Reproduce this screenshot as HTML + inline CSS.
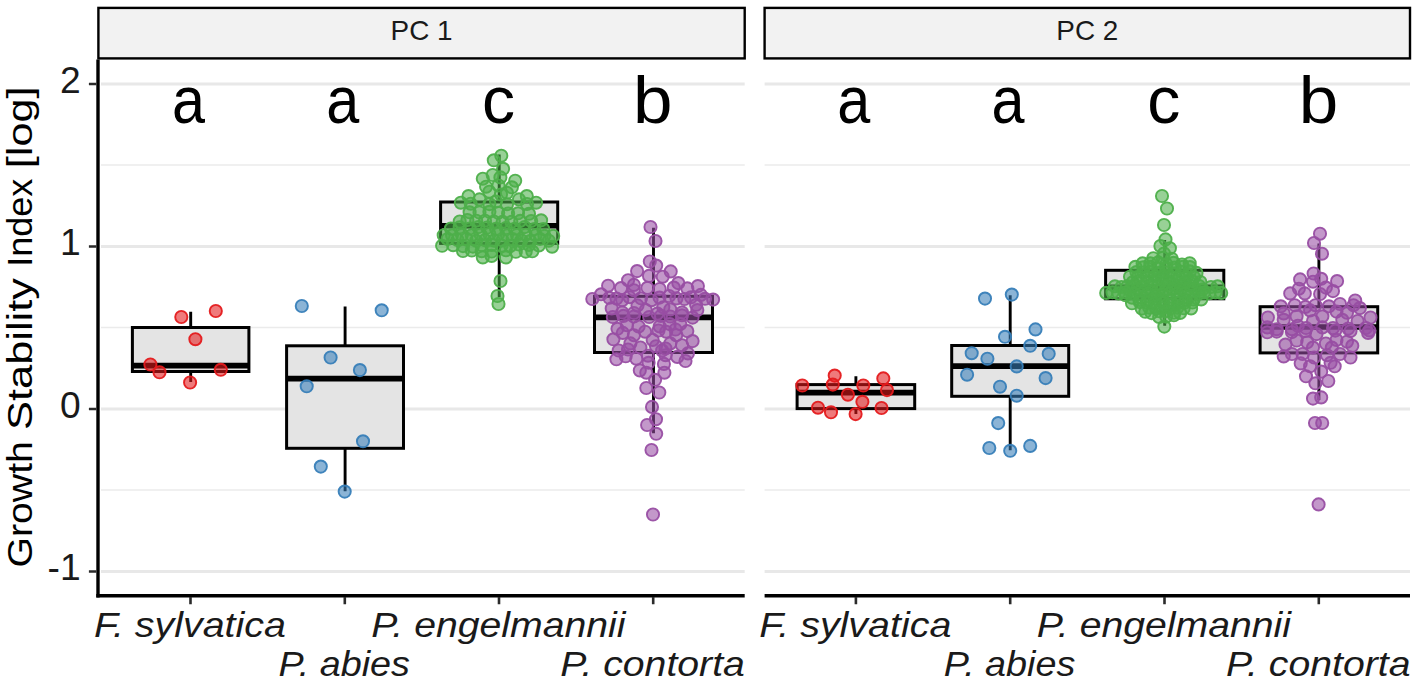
<!DOCTYPE html>
<html><head><meta charset="utf-8"><title>Growth Stability Index</title>
<style>html,body{margin:0;padding:0;background:#fff;}svg{display:block;}text{font-family:"Liberation Sans",sans-serif;}</style></head>
<body>
<svg width="1418" height="682" viewBox="0 0 1418 682" font-family="'Liberation Sans', sans-serif">
<rect width="1418" height="682" fill="#fff"/>
<path d="M101.0 84.0H744.7" stroke="#e8e8e8" stroke-width="3.1"/>
<path d="M101.0 246.5H744.7" stroke="#e8e8e8" stroke-width="3.1"/>
<path d="M101.0 409.0H744.7" stroke="#e8e8e8" stroke-width="3.1"/>
<path d="M101.0 571.5H744.7" stroke="#e8e8e8" stroke-width="3.1"/>
<path d="M101.0 165.0H744.7" stroke="#ebebeb" stroke-width="1.6"/>
<path d="M101.0 327.5H744.7" stroke="#ebebeb" stroke-width="1.6"/>
<path d="M101.0 490.0H744.7" stroke="#ebebeb" stroke-width="1.6"/>
<path d="M764.6 84.0H1410.0" stroke="#e8e8e8" stroke-width="3.1"/>
<path d="M764.6 246.5H1410.0" stroke="#e8e8e8" stroke-width="3.1"/>
<path d="M764.6 409.0H1410.0" stroke="#e8e8e8" stroke-width="3.1"/>
<path d="M764.6 571.5H1410.0" stroke="#e8e8e8" stroke-width="3.1"/>
<path d="M764.6 165.0H1410.0" stroke="#ebebeb" stroke-width="1.6"/>
<path d="M764.6 327.5H1410.0" stroke="#ebebeb" stroke-width="1.6"/>
<path d="M764.6 490.0H1410.0" stroke="#ebebeb" stroke-width="1.6"/>
<rect x="98.4" y="7.9" width="646.3" height="50.5" fill="#f2f2f2" stroke="#000" stroke-width="2.4"/>
<text x="421.6" y="40" font-size="28.3" text-anchor="middle" fill="#1a1a1a" textLength="62" lengthAdjust="spacingAndGlyphs">PC 1</text>
<rect x="764.6" y="7.9" width="645.4" height="50.5" fill="#f2f2f2" stroke="#000" stroke-width="2.4"/>
<text x="1087.3" y="40" font-size="28.3" text-anchor="middle" fill="#1a1a1a" textLength="62" lengthAdjust="spacingAndGlyphs">PC 2</text>
<path d="M190.7 311.7V327.5M190.7 371.5V382.0" stroke="#000" stroke-width="2.9" fill="none"/>
<rect x="132.4" y="327.5" width="116.5" height="44.0" fill="#e4e4e4" stroke="#000" stroke-width="3.0"/>
<path d="M132.4 365.6H248.9" stroke="#000" stroke-width="5.6"/>
<g fill="#E41A1C" fill-opacity="0.58" stroke="#E41A1C" stroke-opacity="0.95" stroke-width="1.9">
<circle cx="181.3" cy="317.0" r="6.1"/>
<circle cx="215.8" cy="311.0" r="6.1"/>
<circle cx="195.4" cy="339.2" r="6.1"/>
<circle cx="150.4" cy="364.5" r="6.1"/>
<circle cx="159.5" cy="372.3" r="6.1"/>
<circle cx="220.8" cy="369.8" r="6.1"/>
<circle cx="190.1" cy="382.5" r="6.1"/>
</g>
<path d="M345.1 306.4V345.8M345.1 448.3V491.3" stroke="#000" stroke-width="2.9" fill="none"/>
<rect x="286.6" y="345.8" width="116.9" height="102.5" fill="#e4e4e4" stroke="#000" stroke-width="3.0"/>
<path d="M286.6 378.6H403.5" stroke="#000" stroke-width="5.6"/>
<g fill="#377EB8" fill-opacity="0.58" stroke="#377EB8" stroke-opacity="0.95" stroke-width="1.9">
<circle cx="301.8" cy="306.0" r="6.1"/>
<circle cx="381.7" cy="310.3" r="6.1"/>
<circle cx="330.6" cy="357.5" r="6.1"/>
<circle cx="359.9" cy="370.1" r="6.1"/>
<circle cx="306.7" cy="386.3" r="6.1"/>
<circle cx="363.0" cy="441.3" r="6.1"/>
<circle cx="320.8" cy="466.6" r="6.1"/>
<circle cx="344.7" cy="491.6" r="6.1"/>
</g>
<path d="M499.2 154.5V202.0M499.2 243.4V297.0" stroke="#000" stroke-width="2.9" fill="none"/>
<rect x="440.6" y="202.0" width="117.1" height="41.4" fill="#e4e4e4" stroke="#000" stroke-width="3.0"/>
<path d="M440.6 225.8H557.7" stroke="#000" stroke-width="5.6"/>
<g fill="#4DAF4A" fill-opacity="0.58" stroke="#4DAF4A" stroke-opacity="0.95" stroke-width="1.9">
<circle cx="501.3" cy="155.7" r="6.1"/>
<circle cx="493.8" cy="160.3" r="6.1"/>
<circle cx="503.1" cy="168.8" r="6.1"/>
<circle cx="492.7" cy="175.0" r="6.1"/>
<circle cx="500.4" cy="177.4" r="6.1"/>
<circle cx="482.8" cy="178.7" r="6.1"/>
<circle cx="515.2" cy="180.7" r="6.1"/>
<circle cx="486.1" cy="186.7" r="6.1"/>
<circle cx="511.9" cy="187.3" r="6.1"/>
<circle cx="489.4" cy="191.7" r="6.1"/>
<circle cx="507.0" cy="192.8" r="6.1"/>
<circle cx="468.5" cy="196.1" r="6.1"/>
<circle cx="526.8" cy="196.1" r="6.1"/>
<circle cx="479.5" cy="199.4" r="6.1"/>
<circle cx="519.0" cy="199.4" r="6.1"/>
<circle cx="460.8" cy="202.7" r="6.1"/>
<circle cx="536.1" cy="202.7" r="6.1"/>
<circle cx="496.0" cy="201.6" r="6.1"/>
<circle cx="500.5" cy="281.0" r="6.1"/>
<circle cx="497.5" cy="296.0" r="6.1"/>
<circle cx="498.5" cy="304.0" r="6.1"/>
<circle cx="498.5" cy="185.5" r="6.1"/>
<circle cx="501.0" cy="194.5" r="6.1"/>
<circle cx="470.7" cy="203.7" r="6.1"/>
<circle cx="489.4" cy="204.1" r="6.1"/>
<circle cx="507.0" cy="204.2" r="6.1"/>
<circle cx="527.0" cy="204.0" r="6.1"/>
<circle cx="469.6" cy="212.3" r="6.1"/>
<circle cx="479.5" cy="212.5" r="6.1"/>
<circle cx="489.4" cy="211.8" r="6.1"/>
<circle cx="498.2" cy="212.8" r="6.1"/>
<circle cx="508.1" cy="213.5" r="6.1"/>
<circle cx="518.0" cy="213.3" r="6.1"/>
<circle cx="529.0" cy="213.8" r="6.1"/>
<circle cx="459.7" cy="221.5" r="6.1"/>
<circle cx="467.4" cy="220.0" r="6.1"/>
<circle cx="476.2" cy="220.7" r="6.1"/>
<circle cx="485.0" cy="220.7" r="6.1"/>
<circle cx="493.8" cy="221.5" r="6.1"/>
<circle cx="502.6" cy="221.9" r="6.1"/>
<circle cx="511.4" cy="221.9" r="6.1"/>
<circle cx="520.2" cy="220.9" r="6.1"/>
<circle cx="531.2" cy="221.0" r="6.1"/>
<circle cx="541.1" cy="220.3" r="6.1"/>
<circle cx="450.9" cy="228.6" r="6.1"/>
<circle cx="459.7" cy="227.3" r="6.1"/>
<circle cx="469.6" cy="228.6" r="6.1"/>
<circle cx="478.4" cy="227.1" r="6.1"/>
<circle cx="487.2" cy="227.5" r="6.1"/>
<circle cx="496.0" cy="228.8" r="6.1"/>
<circle cx="505.9" cy="228.0" r="6.1"/>
<circle cx="514.7" cy="228.8" r="6.1"/>
<circle cx="524.6" cy="227.1" r="6.1"/>
<circle cx="534.5" cy="229.1" r="6.1"/>
<circle cx="543.3" cy="229.1" r="6.1"/>
<circle cx="443.7" cy="235.2" r="6.1"/>
<circle cx="452.0" cy="235.3" r="6.1"/>
<circle cx="461.9" cy="234.8" r="6.1"/>
<circle cx="471.8" cy="235.2" r="6.1"/>
<circle cx="480.6" cy="234.6" r="6.1"/>
<circle cx="489.4" cy="233.9" r="6.1"/>
<circle cx="498.2" cy="234.0" r="6.1"/>
<circle cx="507.0" cy="235.4" r="6.1"/>
<circle cx="516.9" cy="234.9" r="6.1"/>
<circle cx="525.7" cy="234.7" r="6.1"/>
<circle cx="535.6" cy="235.1" r="6.1"/>
<circle cx="544.4" cy="235.8" r="6.1"/>
<circle cx="553.2" cy="235.9" r="6.1"/>
<circle cx="447.6" cy="239.0" r="6.1"/>
<circle cx="457.5" cy="240.0" r="6.1"/>
<circle cx="466.3" cy="238.9" r="6.1"/>
<circle cx="476.2" cy="240.8" r="6.1"/>
<circle cx="485.0" cy="240.1" r="6.1"/>
<circle cx="493.8" cy="240.6" r="6.1"/>
<circle cx="502.6" cy="240.5" r="6.1"/>
<circle cx="512.5" cy="239.1" r="6.1"/>
<circle cx="521.3" cy="240.3" r="6.1"/>
<circle cx="530.1" cy="241.1" r="6.1"/>
<circle cx="540.0" cy="239.0" r="6.1"/>
<circle cx="548.8" cy="240.7" r="6.1"/>
<circle cx="442.1" cy="245.8" r="6.1"/>
<circle cx="453.1" cy="245.2" r="6.1"/>
<circle cx="463.0" cy="246.1" r="6.1"/>
<circle cx="472.9" cy="246.6" r="6.1"/>
<circle cx="481.7" cy="245.1" r="6.1"/>
<circle cx="491.6" cy="245.0" r="6.1"/>
<circle cx="501.5" cy="245.6" r="6.1"/>
<circle cx="510.3" cy="245.9" r="6.1"/>
<circle cx="519.1" cy="244.5" r="6.1"/>
<circle cx="529.0" cy="244.9" r="6.1"/>
<circle cx="538.9" cy="245.4" r="6.1"/>
<circle cx="552.1" cy="246.7" r="6.1"/>
<circle cx="463.0" cy="251.0" r="6.1"/>
<circle cx="471.8" cy="250.5" r="6.1"/>
<circle cx="481.7" cy="251.2" r="6.1"/>
<circle cx="491.6" cy="251.5" r="6.1"/>
<circle cx="505.9" cy="250.3" r="6.1"/>
<circle cx="515.8" cy="251.8" r="6.1"/>
<circle cx="525.7" cy="251.6" r="6.1"/>
<circle cx="532.3" cy="251.3" r="6.1"/>
<circle cx="482.8" cy="257.4" r="6.1"/>
<circle cx="491.6" cy="255.9" r="6.1"/>
<circle cx="505.9" cy="257.4" r="6.1"/>
</g>
<path d="M653.5 227.7V296.3M653.5 352.5V433.2" stroke="#000" stroke-width="2.9" fill="none"/>
<rect x="594.5" y="296.3" width="118.0" height="56.2" fill="#e4e4e4" stroke="#000" stroke-width="3.0"/>
<path d="M594.5 317.4H712.5" stroke="#000" stroke-width="5.6"/>
<g fill="#984EA3" fill-opacity="0.58" stroke="#984EA3" stroke-opacity="0.95" stroke-width="1.9">
<circle cx="650.5" cy="227.0" r="6.1"/>
<circle cx="655.5" cy="241.0" r="6.1"/>
<circle cx="649.8" cy="261.5" r="6.1"/>
<circle cx="656.2" cy="265.6" r="6.1"/>
<circle cx="637.1" cy="271.1" r="6.1"/>
<circle cx="670.7" cy="271.4" r="6.1"/>
<circle cx="649.0" cy="275.9" r="6.1"/>
<circle cx="662.7" cy="276.7" r="6.1"/>
<circle cx="628.1" cy="280.2" r="6.1"/>
<circle cx="678.3" cy="283.1" r="6.1"/>
<circle cx="633.9" cy="284.9" r="6.1"/>
<circle cx="608.1" cy="285.7" r="6.1"/>
<circle cx="697.9" cy="286.1" r="6.1"/>
<circle cx="621.0" cy="288.1" r="6.1"/>
<circle cx="647.4" cy="287.8" r="6.1"/>
<circle cx="673.8" cy="287.6" r="6.1"/>
<circle cx="687.3" cy="288.4" r="6.1"/>
<circle cx="659.7" cy="289.0" r="6.1"/>
<circle cx="633.9" cy="290.2" r="6.1"/>
<circle cx="601.1" cy="294.3" r="6.1"/>
<circle cx="700.8" cy="294.9" r="6.1"/>
<circle cx="592.3" cy="299.0" r="6.1"/>
<circle cx="713.1" cy="299.6" r="6.1"/>
<circle cx="609.3" cy="297.8" r="6.1"/>
<circle cx="669.1" cy="296.0" r="6.1"/>
<circle cx="684.4" cy="299.0" r="6.1"/>
<circle cx="622.2" cy="300.2" r="6.1"/>
<circle cx="651.5" cy="300.2" r="6.1"/>
<circle cx="696.1" cy="304.8" r="6.1"/>
<circle cx="611.7" cy="308.4" r="6.1"/>
<circle cx="637.5" cy="305.4" r="6.1"/>
<circle cx="663.3" cy="307.2" r="6.1"/>
<circle cx="670.3" cy="309.5" r="6.1"/>
<circle cx="645.7" cy="310.1" r="6.1"/>
<circle cx="697.3" cy="310.1" r="6.1"/>
<circle cx="682.0" cy="312.5" r="6.1"/>
<circle cx="622.2" cy="312.5" r="6.1"/>
<circle cx="633.9" cy="313.0" r="6.1"/>
<circle cx="657.4" cy="313.6" r="6.1"/>
<circle cx="612.8" cy="317.0" r="6.1"/>
<circle cx="623.4" cy="315.9" r="6.1"/>
<circle cx="633.9" cy="316.5" r="6.1"/>
<circle cx="649.2" cy="317.0" r="6.1"/>
<circle cx="660.9" cy="315.9" r="6.1"/>
<circle cx="670.3" cy="316.5" r="6.1"/>
<circle cx="682.0" cy="315.3" r="6.1"/>
<circle cx="692.6" cy="317.6" r="6.1"/>
<circle cx="617.5" cy="328.8" r="6.1"/>
<circle cx="626.9" cy="325.2" r="6.1"/>
<circle cx="638.6" cy="326.4" r="6.1"/>
<circle cx="659.7" cy="326.4" r="6.1"/>
<circle cx="669.7" cy="324.1" r="6.1"/>
<circle cx="680.3" cy="324.1" r="6.1"/>
<circle cx="622.8" cy="332.9" r="6.1"/>
<circle cx="645.1" cy="331.7" r="6.1"/>
<circle cx="666.2" cy="331.7" r="6.1"/>
<circle cx="687.3" cy="331.1" r="6.1"/>
<circle cx="633.9" cy="335.2" r="6.1"/>
<circle cx="676.2" cy="335.2" r="6.1"/>
<circle cx="613.4" cy="339.3" r="6.1"/>
<circle cx="652.7" cy="339.9" r="6.1"/>
<circle cx="692.6" cy="341.1" r="6.1"/>
<circle cx="630.4" cy="343.4" r="6.1"/>
<circle cx="670.3" cy="343.4" r="6.1"/>
<circle cx="682.0" cy="345.2" r="6.1"/>
<circle cx="640.4" cy="347.5" r="6.1"/>
<circle cx="618.7" cy="350.5" r="6.1"/>
<circle cx="662.1" cy="350.5" r="6.1"/>
<circle cx="687.9" cy="353.4" r="6.1"/>
<circle cx="616.4" cy="359.3" r="6.1"/>
<circle cx="625.7" cy="356.3" r="6.1"/>
<circle cx="636.3" cy="358.7" r="6.1"/>
<circle cx="648.0" cy="355.7" r="6.1"/>
<circle cx="665.6" cy="355.2" r="6.1"/>
<circle cx="677.3" cy="356.9" r="6.1"/>
<circle cx="685.5" cy="361.0" r="6.1"/>
<circle cx="648.6" cy="362.8" r="6.1"/>
<circle cx="663.9" cy="363.9" r="6.1"/>
<circle cx="639.8" cy="370.4" r="6.1"/>
<circle cx="646.3" cy="372.7" r="6.1"/>
<circle cx="664.4" cy="372.7" r="6.1"/>
<circle cx="655.1" cy="379.8" r="6.1"/>
<circle cx="646.3" cy="388.0" r="6.1"/>
<circle cx="659.3" cy="392.5" r="6.1"/>
<circle cx="652.0" cy="406.9" r="6.1"/>
<circle cx="656.0" cy="419.2" r="6.1"/>
<circle cx="647.1" cy="425.0" r="6.1"/>
<circle cx="656.2" cy="433.8" r="6.1"/>
<circle cx="651.5" cy="450.0" r="6.1"/>
<circle cx="653.0" cy="514.5" r="6.1"/>
<circle cx="616.5" cy="298.6" r="6.1"/>
<circle cx="629.5" cy="297.2" r="6.1"/>
<circle cx="641.0" cy="298.3" r="6.1"/>
<circle cx="659.5" cy="297.6" r="6.1"/>
<circle cx="676.5" cy="298.4" r="6.1"/>
<circle cx="691.0" cy="297.3" r="6.1"/>
<circle cx="705.0" cy="298.8" r="6.1"/>
<circle cx="658.5" cy="330.5" r="6.1"/>
<circle cx="665.5" cy="348.5" r="6.1"/>
<circle cx="656.0" cy="346.2" r="6.1"/>
<circle cx="628.0" cy="349.5" r="6.1"/>
<circle cx="675.5" cy="329.5" r="6.1"/>
</g>
<path d="M855.9 376.3V384.6M855.9 408.6V414.1" stroke="#000" stroke-width="2.9" fill="none"/>
<rect x="797.1" y="384.6" width="117.6" height="24.0" fill="#e4e4e4" stroke="#000" stroke-width="3.0"/>
<path d="M797.1 392.6H914.7" stroke="#000" stroke-width="5.6"/>
<g fill="#E41A1C" fill-opacity="0.58" stroke="#E41A1C" stroke-opacity="0.95" stroke-width="1.9">
<circle cx="802.3" cy="385.5" r="6.1"/>
<circle cx="834.7" cy="375.6" r="6.1"/>
<circle cx="832.8" cy="384.6" r="6.1"/>
<circle cx="883.3" cy="378.4" r="6.1"/>
<circle cx="863.3" cy="385.5" r="6.1"/>
<circle cx="887.0" cy="390.1" r="6.1"/>
<circle cx="847.9" cy="394.7" r="6.1"/>
<circle cx="862.4" cy="401.8" r="6.1"/>
<circle cx="818.0" cy="407.7" r="6.1"/>
<circle cx="831.0" cy="412.3" r="6.1"/>
<circle cx="855.6" cy="414.1" r="6.1"/>
<circle cx="881.5" cy="408.0" r="6.1"/>
</g>
<path d="M1010.2 295.3V345.5M1010.2 396.3V450.2" stroke="#000" stroke-width="2.9" fill="none"/>
<rect x="951.7" y="345.5" width="117.0" height="50.8" fill="#e4e4e4" stroke="#000" stroke-width="3.0"/>
<path d="M951.7 366.1H1068.7" stroke="#000" stroke-width="5.6"/>
<g fill="#377EB8" fill-opacity="0.58" stroke="#377EB8" stroke-opacity="0.95" stroke-width="1.9">
<circle cx="985.0" cy="298.6" r="6.1"/>
<circle cx="1011.8" cy="294.6" r="6.1"/>
<circle cx="1035.5" cy="329.4" r="6.1"/>
<circle cx="1005.0" cy="336.8" r="6.1"/>
<circle cx="1030.2" cy="345.8" r="6.1"/>
<circle cx="971.7" cy="353.2" r="6.1"/>
<circle cx="987.4" cy="358.7" r="6.1"/>
<circle cx="1048.7" cy="353.8" r="6.1"/>
<circle cx="1016.7" cy="366.4" r="6.1"/>
<circle cx="967.1" cy="374.7" r="6.1"/>
<circle cx="1045.6" cy="378.1" r="6.1"/>
<circle cx="1000.0" cy="386.7" r="6.1"/>
<circle cx="1016.7" cy="395.7" r="6.1"/>
<circle cx="998.2" cy="423.1" r="6.1"/>
<circle cx="989.3" cy="448.0" r="6.1"/>
<circle cx="1010.2" cy="450.8" r="6.1"/>
<circle cx="1030.2" cy="445.9" r="6.1"/>
</g>
<path d="M1164.7 240.0V270.3M1164.7 298.8V325.7" stroke="#000" stroke-width="2.9" fill="none"/>
<rect x="1105.6" y="270.3" width="118.2" height="28.5" fill="#e4e4e4" stroke="#000" stroke-width="3.0"/>
<path d="M1105.6 287.4H1223.8" stroke="#000" stroke-width="5.6"/>
<g fill="#4DAF4A" fill-opacity="0.58" stroke="#4DAF4A" stroke-opacity="0.95" stroke-width="1.9">
<circle cx="1153.3" cy="258.2" r="6.1"/>
<circle cx="1162.8" cy="258.0" r="6.1"/>
<circle cx="1171.7" cy="258.7" r="6.1"/>
<circle cx="1142.6" cy="263.4" r="6.1"/>
<circle cx="1150.3" cy="263.3" r="6.1"/>
<circle cx="1158.1" cy="262.4" r="6.1"/>
<circle cx="1166.3" cy="264.2" r="6.1"/>
<circle cx="1173.6" cy="262.8" r="6.1"/>
<circle cx="1182.0" cy="264.5" r="6.1"/>
<circle cx="1189.7" cy="263.2" r="6.1"/>
<circle cx="1135.4" cy="266.8" r="6.1"/>
<circle cx="1143.2" cy="267.3" r="6.1"/>
<circle cx="1150.1" cy="266.9" r="6.1"/>
<circle cx="1158.3" cy="268.6" r="6.1"/>
<circle cx="1166.1" cy="268.0" r="6.1"/>
<circle cx="1174.8" cy="267.5" r="6.1"/>
<circle cx="1182.6" cy="266.8" r="6.1"/>
<circle cx="1189.9" cy="267.1" r="6.1"/>
<circle cx="1136.4" cy="272.1" r="6.1"/>
<circle cx="1143.5" cy="272.5" r="6.1"/>
<circle cx="1151.2" cy="271.8" r="6.1"/>
<circle cx="1159.3" cy="272.7" r="6.1"/>
<circle cx="1166.0" cy="272.4" r="6.1"/>
<circle cx="1174.0" cy="273.2" r="6.1"/>
<circle cx="1181.8" cy="271.8" r="6.1"/>
<circle cx="1189.8" cy="271.4" r="6.1"/>
<circle cx="1196.5" cy="272.9" r="6.1"/>
<circle cx="1130.0" cy="276.7" r="6.1"/>
<circle cx="1137.9" cy="277.1" r="6.1"/>
<circle cx="1147.0" cy="276.9" r="6.1"/>
<circle cx="1155.1" cy="276.2" r="6.1"/>
<circle cx="1162.9" cy="276.9" r="6.1"/>
<circle cx="1170.7" cy="276.6" r="6.1"/>
<circle cx="1179.1" cy="277.8" r="6.1"/>
<circle cx="1186.6" cy="277.1" r="6.1"/>
<circle cx="1194.0" cy="277.2" r="6.1"/>
<circle cx="1132.7" cy="282.3" r="6.1"/>
<circle cx="1140.5" cy="280.6" r="6.1"/>
<circle cx="1147.4" cy="281.5" r="6.1"/>
<circle cx="1154.4" cy="281.0" r="6.1"/>
<circle cx="1162.2" cy="280.2" r="6.1"/>
<circle cx="1169.5" cy="281.8" r="6.1"/>
<circle cx="1177.2" cy="280.5" r="6.1"/>
<circle cx="1185.1" cy="282.0" r="6.1"/>
<circle cx="1192.2" cy="281.0" r="6.1"/>
<circle cx="1200.4" cy="282.0" r="6.1"/>
<circle cx="1127.3" cy="286.4" r="6.1"/>
<circle cx="1134.4" cy="285.3" r="6.1"/>
<circle cx="1142.5" cy="286.5" r="6.1"/>
<circle cx="1151.3" cy="284.7" r="6.1"/>
<circle cx="1158.2" cy="284.9" r="6.1"/>
<circle cx="1166.2" cy="285.5" r="6.1"/>
<circle cx="1174.7" cy="285.0" r="6.1"/>
<circle cx="1181.8" cy="285.3" r="6.1"/>
<circle cx="1190.3" cy="285.7" r="6.1"/>
<circle cx="1199.1" cy="286.0" r="6.1"/>
<circle cx="1129.9" cy="290.2" r="6.1"/>
<circle cx="1137.4" cy="288.9" r="6.1"/>
<circle cx="1145.0" cy="290.6" r="6.1"/>
<circle cx="1152.3" cy="290.7" r="6.1"/>
<circle cx="1158.9" cy="289.7" r="6.1"/>
<circle cx="1165.8" cy="290.3" r="6.1"/>
<circle cx="1173.1" cy="288.9" r="6.1"/>
<circle cx="1180.6" cy="289.2" r="6.1"/>
<circle cx="1188.1" cy="288.9" r="6.1"/>
<circle cx="1194.9" cy="289.1" r="6.1"/>
<circle cx="1202.4" cy="289.6" r="6.1"/>
<circle cx="1125.6" cy="295.3" r="6.1"/>
<circle cx="1133.7" cy="293.5" r="6.1"/>
<circle cx="1140.4" cy="294.0" r="6.1"/>
<circle cx="1147.9" cy="293.5" r="6.1"/>
<circle cx="1155.8" cy="295.6" r="6.1"/>
<circle cx="1162.6" cy="294.3" r="6.1"/>
<circle cx="1169.3" cy="293.4" r="6.1"/>
<circle cx="1176.9" cy="293.8" r="6.1"/>
<circle cx="1184.9" cy="293.6" r="6.1"/>
<circle cx="1191.0" cy="295.5" r="6.1"/>
<circle cx="1199.0" cy="293.5" r="6.1"/>
<circle cx="1132.1" cy="297.7" r="6.1"/>
<circle cx="1139.7" cy="300.0" r="6.1"/>
<circle cx="1147.9" cy="299.3" r="6.1"/>
<circle cx="1154.6" cy="298.5" r="6.1"/>
<circle cx="1162.1" cy="299.5" r="6.1"/>
<circle cx="1170.3" cy="299.5" r="6.1"/>
<circle cx="1177.6" cy="298.1" r="6.1"/>
<circle cx="1185.9" cy="300.0" r="6.1"/>
<circle cx="1193.6" cy="299.5" r="6.1"/>
<circle cx="1201.2" cy="299.4" r="6.1"/>
<circle cx="1132.0" cy="303.3" r="6.1"/>
<circle cx="1139.7" cy="302.1" r="6.1"/>
<circle cx="1146.8" cy="302.7" r="6.1"/>
<circle cx="1154.7" cy="303.7" r="6.1"/>
<circle cx="1163.3" cy="303.1" r="6.1"/>
<circle cx="1170.8" cy="304.4" r="6.1"/>
<circle cx="1178.4" cy="302.9" r="6.1"/>
<circle cx="1184.9" cy="302.6" r="6.1"/>
<circle cx="1192.4" cy="302.5" r="6.1"/>
<circle cx="1141.7" cy="308.6" r="6.1"/>
<circle cx="1149.1" cy="307.6" r="6.1"/>
<circle cx="1156.0" cy="308.4" r="6.1"/>
<circle cx="1162.2" cy="308.0" r="6.1"/>
<circle cx="1170.5" cy="308.3" r="6.1"/>
<circle cx="1177.4" cy="307.6" r="6.1"/>
<circle cx="1183.7" cy="308.3" r="6.1"/>
<circle cx="1191.1" cy="308.4" r="6.1"/>
<circle cx="1145.3" cy="311.8" r="6.1"/>
<circle cx="1151.6" cy="313.1" r="6.1"/>
<circle cx="1159.3" cy="311.3" r="6.1"/>
<circle cx="1165.7" cy="311.2" r="6.1"/>
<circle cx="1174.0" cy="312.8" r="6.1"/>
<circle cx="1180.1" cy="312.9" r="6.1"/>
<circle cx="1159.1" cy="316.9" r="6.1"/>
<circle cx="1166.2" cy="316.6" r="6.1"/>
<circle cx="1173.9" cy="315.3" r="6.1"/>
<circle cx="1162.0" cy="196.0" r="6.1"/>
<circle cx="1167.0" cy="208.5" r="6.1"/>
<circle cx="1164.0" cy="225.0" r="6.1"/>
<circle cx="1165.5" cy="239.4" r="6.1"/>
<circle cx="1160.4" cy="246.0" r="6.1"/>
<circle cx="1169.9" cy="248.2" r="6.1"/>
<circle cx="1164.0" cy="253.5" r="6.1"/>
<circle cx="1164.3" cy="326.6" r="6.1"/>
<circle cx="1106.2" cy="292.9" r="6.1"/>
<circle cx="1112.5" cy="292.3" r="6.1"/>
<circle cx="1118.5" cy="293.4" r="6.1"/>
<circle cx="1114.9" cy="286.3" r="6.1"/>
<circle cx="1121.5" cy="287.0" r="6.1"/>
<circle cx="1125.0" cy="292.5" r="6.1"/>
<circle cx="1221.2" cy="292.9" r="6.1"/>
<circle cx="1215.5" cy="292.4" r="6.1"/>
<circle cx="1209.3" cy="293.3" r="6.1"/>
<circle cx="1217.6" cy="286.3" r="6.1"/>
<circle cx="1211.0" cy="287.0" r="6.1"/>
<circle cx="1204.0" cy="292.5" r="6.1"/>
</g>
<path d="M1318.9 243.4V306.7M1318.9 352.9V399.9" stroke="#000" stroke-width="2.9" fill="none"/>
<rect x="1260.1" y="306.7" width="117.6" height="46.2" fill="#e4e4e4" stroke="#000" stroke-width="3.0"/>
<path d="M1260.1 327.0H1377.7" stroke="#000" stroke-width="5.6"/>
<g fill="#984EA3" fill-opacity="0.58" stroke="#984EA3" stroke-opacity="0.95" stroke-width="1.9">
<circle cx="1320.0" cy="233.7" r="6.1"/>
<circle cx="1314.0" cy="243.0" r="6.1"/>
<circle cx="1322.0" cy="253.7" r="6.1"/>
<circle cx="1313.6" cy="273.5" r="6.1"/>
<circle cx="1321.2" cy="278.8" r="6.1"/>
<circle cx="1300.1" cy="279.4" r="6.1"/>
<circle cx="1337.1" cy="281.1" r="6.1"/>
<circle cx="1313.0" cy="281.7" r="6.1"/>
<circle cx="1298.9" cy="288.7" r="6.1"/>
<circle cx="1325.9" cy="287.6" r="6.1"/>
<circle cx="1333.0" cy="291.1" r="6.1"/>
<circle cx="1290.2" cy="293.4" r="6.1"/>
<circle cx="1304.8" cy="293.4" r="6.1"/>
<circle cx="1320.1" cy="294.0" r="6.1"/>
<circle cx="1355.2" cy="300.5" r="6.1"/>
<circle cx="1280.8" cy="306.3" r="6.1"/>
<circle cx="1294.8" cy="305.2" r="6.1"/>
<circle cx="1305.4" cy="306.9" r="6.1"/>
<circle cx="1315.4" cy="305.2" r="6.1"/>
<circle cx="1328.9" cy="306.3" r="6.1"/>
<circle cx="1340.0" cy="304.0" r="6.1"/>
<circle cx="1353.5" cy="305.2" r="6.1"/>
<circle cx="1359.9" cy="308.1" r="6.1"/>
<circle cx="1283.7" cy="313.4" r="6.1"/>
<circle cx="1310.1" cy="310.4" r="6.1"/>
<circle cx="1336.5" cy="311.6" r="6.1"/>
<circle cx="1347.0" cy="312.8" r="6.1"/>
<circle cx="1267.9" cy="317.5" r="6.1"/>
<circle cx="1296.6" cy="316.3" r="6.1"/>
<circle cx="1322.4" cy="316.3" r="6.1"/>
<circle cx="1370.5" cy="317.5" r="6.1"/>
<circle cx="1283.7" cy="319.8" r="6.1"/>
<circle cx="1313.0" cy="321.0" r="6.1"/>
<circle cx="1342.3" cy="319.8" r="6.1"/>
<circle cx="1357.6" cy="321.0" r="6.1"/>
<circle cx="1267.3" cy="327.4" r="6.1"/>
<circle cx="1276.7" cy="329.2" r="6.1"/>
<circle cx="1291.9" cy="329.2" r="6.1"/>
<circle cx="1297.8" cy="325.7" r="6.1"/>
<circle cx="1306.0" cy="328.0" r="6.1"/>
<circle cx="1322.4" cy="327.4" r="6.1"/>
<circle cx="1333.0" cy="328.0" r="6.1"/>
<circle cx="1348.2" cy="328.6" r="6.1"/>
<circle cx="1365.8" cy="328.0" r="6.1"/>
<circle cx="1369.3" cy="330.4" r="6.1"/>
<circle cx="1267.3" cy="332.3" r="6.1"/>
<circle cx="1276.7" cy="331.6" r="6.1"/>
<circle cx="1291.9" cy="332.1" r="6.1"/>
<circle cx="1305.4" cy="331.0" r="6.1"/>
<circle cx="1316.5" cy="334.1" r="6.1"/>
<circle cx="1335.3" cy="330.6" r="6.1"/>
<circle cx="1350.5" cy="331.1" r="6.1"/>
<circle cx="1368.1" cy="332.9" r="6.1"/>
<circle cx="1296.6" cy="340.5" r="6.1"/>
<circle cx="1307.2" cy="342.3" r="6.1"/>
<circle cx="1285.5" cy="344.6" r="6.1"/>
<circle cx="1325.9" cy="343.5" r="6.1"/>
<circle cx="1336.5" cy="339.9" r="6.1"/>
<circle cx="1347.0" cy="341.7" r="6.1"/>
<circle cx="1352.3" cy="345.8" r="6.1"/>
<circle cx="1313.0" cy="347.6" r="6.1"/>
<circle cx="1331.8" cy="347.6" r="6.1"/>
<circle cx="1283.7" cy="356.4" r="6.1"/>
<circle cx="1291.9" cy="354.0" r="6.1"/>
<circle cx="1302.5" cy="354.0" r="6.1"/>
<circle cx="1314.2" cy="357.5" r="6.1"/>
<circle cx="1327.1" cy="355.2" r="6.1"/>
<circle cx="1340.0" cy="354.0" r="6.1"/>
<circle cx="1350.5" cy="357.5" r="6.1"/>
<circle cx="1300.7" cy="363.4" r="6.1"/>
<circle cx="1310.1" cy="366.3" r="6.1"/>
<circle cx="1330.6" cy="362.8" r="6.1"/>
<circle cx="1334.7" cy="366.3" r="6.1"/>
<circle cx="1321.2" cy="371.6" r="6.1"/>
<circle cx="1306.0" cy="376.3" r="6.1"/>
<circle cx="1315.4" cy="383.3" r="6.1"/>
<circle cx="1328.3" cy="381.0" r="6.1"/>
<circle cx="1313.0" cy="398.6" r="6.1"/>
<circle cx="1321.2" cy="397.4" r="6.1"/>
<circle cx="1315.0" cy="423.0" r="6.1"/>
<circle cx="1322.2" cy="423.0" r="6.1"/>
<circle cx="1318.6" cy="504.4" r="6.1"/>
</g>
<text x="188.4" y="123.2" font-size="67" text-anchor="middle" fill="#000" textLength="33" lengthAdjust="spacingAndGlyphs">a</text>
<text x="342.7" y="123.2" font-size="67" text-anchor="middle" fill="#000" textLength="33" lengthAdjust="spacingAndGlyphs">a</text>
<text x="498.4" y="123.2" font-size="67" text-anchor="middle" fill="#000" textLength="33" lengthAdjust="spacingAndGlyphs">c</text>
<text x="652.8" y="123.2" font-size="67" text-anchor="middle" fill="#000" textLength="39.5" lengthAdjust="spacingAndGlyphs">b</text>
<text x="853.8" y="123.2" font-size="67" text-anchor="middle" fill="#000" textLength="33" lengthAdjust="spacingAndGlyphs">a</text>
<text x="1008.1" y="123.2" font-size="67" text-anchor="middle" fill="#000" textLength="33" lengthAdjust="spacingAndGlyphs">a</text>
<text x="1163.8" y="123.2" font-size="67" text-anchor="middle" fill="#000" textLength="33" lengthAdjust="spacingAndGlyphs">c</text>
<text x="1318.4" y="123.2" font-size="67" text-anchor="middle" fill="#000" textLength="39.5" lengthAdjust="spacingAndGlyphs">b</text>
<path d="M98.0 59.5V597.5" stroke="#000" stroke-width="3.4"/>
<path d="M96.3 595.8H744.7M764.6 595.8H1410.0" stroke="#000" stroke-width="3.4"/>
<path d="M88.9 84.0H96.4M88.9 246.5H96.4M88.9 409.0H96.4M88.9 571.5H96.4M190.5 597V604.3M344.8 597V604.3M499.0 597V604.3M653.2 597V604.3M855.9 597V604.3M1010.2 597V604.3M1164.5 597V604.3M1318.8 597V604.3" stroke="#2b2b2b" stroke-width="2.6"/>
<text x="80.7" y="92.9" font-size="37.2" text-anchor="end" fill="#1a1a1a">2</text>
<text x="80.7" y="255.4" font-size="37.2" text-anchor="end" fill="#1a1a1a">1</text>
<text x="80.7" y="417.9" font-size="37.2" text-anchor="end" fill="#1a1a1a">0</text>
<text x="80.7" y="580.4" font-size="37.2" text-anchor="end" fill="#1a1a1a">-1</text>
<text transform="translate(31.8 567.4) rotate(-90)" font-size="35.3" fill="#000" textLength="126.2" lengthAdjust="spacingAndGlyphs">Growth</text>
<text transform="translate(31.8 430.0) rotate(-90)" font-size="35.3" fill="#000" textLength="152.0" lengthAdjust="spacingAndGlyphs">Stability</text>
<text transform="translate(31.8 266.8) rotate(-90)" font-size="35.3" fill="#000" textLength="88.2" lengthAdjust="spacingAndGlyphs">Index</text>
<text transform="translate(31.8 168.2) rotate(-90)" font-size="35.3" fill="#000" textLength="81.6" lengthAdjust="spacingAndGlyphs">[log]</text>
<text x="189.9" y="636.6" font-size="34.6" font-style="italic" text-anchor="middle" fill="#1a1a1a" textLength="192" lengthAdjust="spacingAndGlyphs">F. sylvatica</text>
<text x="344.2" y="675.6" font-size="34.6" font-style="italic" text-anchor="middle" fill="#1a1a1a" textLength="131.5" lengthAdjust="spacingAndGlyphs">P. abies</text>
<text x="498.4" y="636.6" font-size="34.6" font-style="italic" text-anchor="middle" fill="#1a1a1a" textLength="254.3" lengthAdjust="spacingAndGlyphs">P. engelmannii</text>
<text x="652.6" y="675.6" font-size="34.6" font-style="italic" text-anchor="middle" fill="#1a1a1a" textLength="184.5" lengthAdjust="spacingAndGlyphs">P. contorta</text>
<text x="855.3" y="636.6" font-size="34.6" font-style="italic" text-anchor="middle" fill="#1a1a1a" textLength="192" lengthAdjust="spacingAndGlyphs">F. sylvatica</text>
<text x="1009.6" y="675.6" font-size="34.6" font-style="italic" text-anchor="middle" fill="#1a1a1a" textLength="131.5" lengthAdjust="spacingAndGlyphs">P. abies</text>
<text x="1163.9" y="636.6" font-size="34.6" font-style="italic" text-anchor="middle" fill="#1a1a1a" textLength="254.3" lengthAdjust="spacingAndGlyphs">P. engelmannii</text>
<text x="1318.2" y="675.6" font-size="34.6" font-style="italic" text-anchor="middle" fill="#1a1a1a" textLength="184.5" lengthAdjust="spacingAndGlyphs">P. contorta</text>
</svg>
</body></html>
